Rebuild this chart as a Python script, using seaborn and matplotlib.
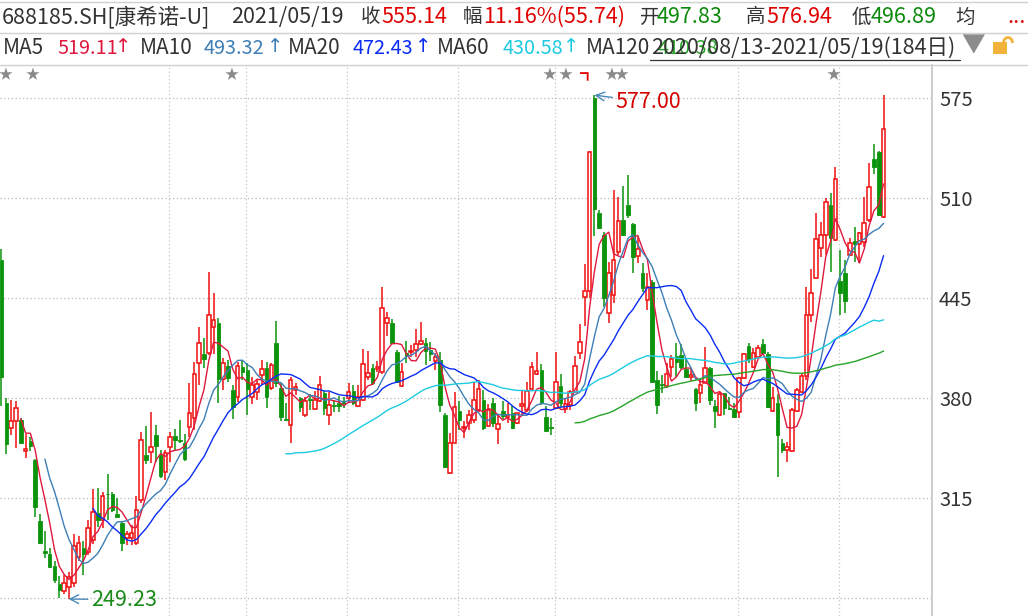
import numpy as np
import pandas as pd
import seaborn as sns
from matplotlib import pyplot as plt
from matplotlib.lines import Line2D
from matplotlib.patches import Rectangle, Arc
import matplotlib.transforms as mtrans

# 688185.SH daily bars, 2020/08/13 - 2021/05/19 (184 days)
opens = [470, 377, 360.5, 365, 366, 345.5, 352, 340, 300, 280.7,
         279, 271, 259, 255, 257.5, 260, 276.6, 283, 280, 288,
         305.6, 301, 318, 318, 304.6, 299, 289.4, 289.4, 286, 314,
         343, 345, 356, 343, 332.3, 348.5, 355.5, 353, 350.7, 361.6,
         367, 402.7, 408.8, 409.7, 426.6, 428.7, 392.3, 401, 385.4, 380.6,
         400.6, 398.4, 380.6, 384.3, 395, 400, 386.5, 415.7, 386.5, 366.5,
         362.6, 385.4, 380, 369, 379.5, 372.8, 378.5, 383.7, 369, 375.6,
         377, 378.2, 380, 385, 375, 378.9, 393.6, 399.5, 398.8, 397.3,
         429.2, 428.7, 410.3, 388, 409.2, 410, 411.4, 415.3, 415.7, 411.4,
         404.5, 405, 369, 331.2, 351.2, 372, 360.5, 364.2, 366, 372.4,
         379, 362, 376.7, 359.8, 372, 367.6, 370.7, 363.7, 375.2, 372.4,
         385.8, 395.8, 398.4, 367.6, 361.6, 374, 388, 372.8, 375.6, 384.3,
         409.7, 445.6, 450, 575, 500.7, 486, 435.7, 447, 475.3, 495.9,
         505.6, 493.3, 472.5, 461.7, 443.9, 455.8, 392, 389.5, 388.2, 400.6,
         407.5, 408.1, 398.8, 394.1, 385.8, 383.6, 390.2, 399.5, 375, 369.1,
         383.2, 373.5, 372.8, 371.3, 393, 414, 400.6, 406.6, 415.3, 408.8,
         372, 377.1, 350.7, 346.4, 346, 372, 384.3, 394.5, 434.1, 458,
         477.5, 486, 505.6, 483, 456.4, 461.7, 473.1, 482.5, 480.3, 481.8,
         495.9, 535.3, 540.3, 497.83]
highs = [477, 380, 379, 378.5, 367, 357, 355, 340.5, 305, 294,
         282.5, 274.5, 264.5, 265, 267, 292, 290.5, 287, 301, 321,
         322, 319, 331, 319.3, 315, 300, 294, 297.6, 316.5, 358,
         362, 371, 362.6, 346.4, 346.4, 358.3, 360, 366, 357, 389.7,
         403.8, 426, 419, 462.3, 448.7, 432, 406, 405, 388.6, 403.8,
         404, 402.7, 394, 392.3, 405, 403.8, 402.7, 430.2, 389.7, 376.7,
         393.6, 389.7, 381, 381, 383, 385, 394.5, 385, 384.3, 379,
         381.5, 381, 389.7, 388.6, 388.6, 412, 411, 402, 404.5, 452,
         436.3, 431.3, 411.4, 402.7, 417.5, 414.6, 424.8, 429.8, 419, 416.8,
         409.2, 410.3, 370.7, 357.7, 384.3, 378.5, 365.5, 372.4, 390.8, 392,
         385.4, 376.3, 380, 369, 378.5, 377.2, 375, 370.7, 385.4, 390.8,
         403.8, 410.3, 402.3, 375, 367, 410.3, 395.8, 380, 385.4, 407.5,
         428.3, 467.3, 541, 577, 502.4, 488.3, 468.8, 515.4, 511, 518,
         525, 494, 485, 468, 461.2, 457, 398, 395, 402.7, 408.1,
         415.7, 415.3, 405.3, 399.5, 386.5, 392, 413.6, 400.6, 378.9, 384.3,
         383.6, 381, 377, 394, 409.2, 415.7, 412.5, 414.6, 418.3, 410.3,
         387.6, 382.8, 353.3, 351.8, 373.5, 386.5, 396.2, 452.6, 463.8, 500.2,
         494.8, 510, 513.2, 530, 476.4, 470, 484, 491.6, 488.3, 510.6,
         532.7, 545.3, 541, 576.94]
lows = [375, 344, 356, 347.5, 350, 341, 346, 303, 285, 276,
        269.4, 259.7, 250, 253, 249.23, 257.5, 274, 265, 278, 285,
        296.5, 296, 301, 306, 302, 281, 284.6, 284.6, 284.6, 311.7,
        337, 337.7, 338.8, 328, 327, 338.8, 346.4, 350.7, 339.4, 355,
        359.4, 388.6, 399.5, 408, 409, 377.2, 385.4, 390.8, 366.3, 377.8,
        392, 369, 376.3, 378.9, 388.6, 374, 385.4, 387.6, 365.5, 365.5,
        351.2, 382, 371.3, 368, 372.4, 372.4, 377.8, 369, 362.6, 371.3,
        371.3, 374, 377.8, 375.6, 374.6, 378.5, 392, 388.6, 397, 396,
        420.5, 415.7, 389.7, 387.6, 403.2, 407, 406.6, 414.6, 401.6, 404.5,
        398.4, 371.3, 335, 330.8, 350.7, 359.4, 354, 359.4, 364, 371.3,
        359.4, 361.5, 361.6, 350.3, 366.3, 363.7, 359.8, 363.3, 369, 371.3,
        385.4, 395, 375.6, 358.5, 356, 372.8, 374.6, 370.7, 372.4, 384,
        405.3, 427, 445, 485.5, 489.8, 439.6, 429, 441.7, 473, 485.5,
        497, 461.7, 468, 449.3, 437.4, 390, 370, 383.6, 386.5, 394,
        394, 398.8, 393, 391.5, 372, 377, 389.8, 375.6, 360.5, 368.5,
        369.1, 372.4, 367, 367, 392.3, 402.7, 399.5, 406, 408.1, 373.5,
        371.3, 329, 344.6, 338.8, 345.3, 371.3, 383.2, 391.9, 429.8, 457.4,
        472, 473, 462.3, 482.5, 434.1, 435.6, 472.5, 468.8, 467.7, 478.6,
        494.8, 525.8, 499.1, 496.89]
closes = [394, 350, 365, 374, 351, 347, 349, 309.5, 286, 279.6,
          270.5, 262, 255.5, 259.7, 263.6, 284, 285.7, 279, 296, 306,
          301, 316.5, 317.6, 307.4, 303, 286, 291.5, 292.2, 307.4, 353,
          340, 348.5, 349, 329.5, 344.6, 354.6, 353, 352, 340.3, 370.2,
          395.8, 415.7, 405.8, 434.1, 431, 392.3, 402.7, 393, 374.6, 401,
          397.3, 385.8, 388.6, 389.3, 398.8, 380.6, 401.7, 390.2, 368, 365.9,
          391.9, 387.1, 374.6, 378.5, 379, 378.9, 388.6, 373.5, 375.6, 375.2,
          375, 376.7, 384.3, 377, 380.6, 402.1, 396.2, 389.7, 400.6, 438.5,
          432, 416.2, 390.8, 397.3, 407.5, 410.7, 415.3, 417.5, 411, 408.8,
          407.1, 375.6, 335.5, 351.2, 374.6, 366, 361.6, 369.1, 379, 385.8,
          360.5, 372.4, 363.7, 363.3, 368.5, 369.1, 360.5, 370.2, 376, 385,
          400.1, 397.7, 376.7, 358.9, 360.7, 390.8, 376.7, 376.3, 384.3, 401,
          416.8, 450, 540.3, 502.8, 490.5, 445, 461.2, 470, 495.5, 486.1,
          499, 472, 476.8, 451.5, 452.1, 390.8, 375.6, 388.4, 395.8, 405.3,
          403.8, 400.1, 393.6, 395.1, 376.7, 388.6, 399.5, 378.9, 372, 382.8,
          373.5, 372.8, 368.1, 393, 408.8, 405.3, 409.2, 412.5, 409.2, 374.1,
          380, 356.1, 346.4, 348.5, 372.4, 385.4, 394.5, 434.1, 448.2, 483.3,
          486.1, 507.8, 484, 522.3, 448.2, 443.4, 480.7, 480.3, 487.2, 494.2,
          517.6, 530, 499.4, 555.14]

ma_windows = [5, 10, 20, 60, 120]
ma_colors = ['#e0183f', '#3d7fb6', '#0a2cf5', '#1ccbe0', '#27a327']
ma_values = ['519.11', '493.32', '472.43', '430.58', '410.38']
y_ticks = [315, 380, 445, 510, 575]
month_lines = [35, 51, 72, 95, 115, 153, 174]
star_pos = [0.9, 6.5, 47.8, 113.6, 116.9, 126.5, 128.7, 172.5]

RED = '#f01010'
GREEN = '#0c930c'

df = pd.DataFrame({'open': opens, 'high': highs, 'low': lows, 'close': closes})
df['idx'] = np.arange(len(df))
for w in ma_windows:
    df[f'ma{w}'] = df['close'].rolling(w).mean()

sns.set_style('white')
plt.rcParams['font.family'] = ['Noto Sans CJK SC', 'DejaVu Sans']

W, H = 1028, 616
fig = plt.figure(figsize=(W / 100, H / 100), dpi=100)
ax = fig.add_axes([0, 0, 932 / W, (H - 65) / H])

def fy(y):
    return 1 - y / H

# candles
up = df['close'] >= df['open']
body_lo = np.minimum(df['open'], df['close'])
body_hi = np.maximum(df['open'], df['close'])
body_h = np.maximum(body_hi - body_lo, 0.5)
ax.bar(df['idx'][up], body_h[up], bottom=body_lo[up], width=0.74,
       facecolor='white', edgecolor=RED, linewidth=1.1, zorder=3)
ax.bar(df['idx'][~up], body_h[~up], bottom=body_lo[~up], width=0.74,
       facecolor=GREEN, edgecolor=GREEN, linewidth=0.6, zorder=3)
wick_col = np.where(up, RED, GREEN)
ax.vlines(df['idx'], body_hi, df['high'], colors=wick_col, linewidth=1.1, zorder=2)
ax.vlines(df['idx'], df['low'], body_lo, colors=wick_col, linewidth=1.1, zorder=2)

# moving averages
for w, c in zip(ma_windows, ma_colors):
    sns.lineplot(data=df, x='idx', y=f'ma{w}', ax=ax, color=c, linewidth=1.0, zorder=4)

for v in [250] + y_ticks:
    ax.axhline(v, color='#b8b8b8', linestyle=(0, (1, 2)), linewidth=0.9, zorder=1)
for m in month_lines:
    ax.axvline(m - 0.25, color='#c4c4c4', linestyle=(0, (1, 2)), linewidth=0.9, zorder=1)

ax.set_xlim(-0.31, 193.05)
ax.set_ylim(238.5, 596.6)
ax.set_xlabel('')
ax.set_ylabel('')
ax.set_xticks([])
ax.yaxis.tick_right()
ax.set_yticks(y_ticks)
ax.set_yticklabels([str(t) for t in y_ticks], fontsize=14.5, color='#333333')
ax.tick_params(axis='y', length=0, pad=5)
for s in ['left', 'top', 'bottom']:
    ax.spines[s].set_visible(False)
ax.spines['right'].set_color('#c8c8c8')
ax.spines['right'].set_linewidth(1.3)

# high / low labels
ax.annotate('577.00', xy=(123, 577), xytext=(127.4, 572.6), color='#d40000', fontsize=15.5,
            va='center', ha='left',
            arrowprops=dict(arrowstyle='->', color='#4a8ab8', lw=1.0, shrinkA=0, shrinkB=0))
ax.annotate('249.23', xy=(13.9, 249.5), xytext=(18.6, 249.2), color='#1a8a1a', fontsize=15.5,
            va='center', ha='left',
            arrowprops=dict(arrowstyle='->', color='#4a8ab8', lw=1.0, shrinkA=0, shrinkB=0))

# stars row
trans = mtrans.blended_transform_factory(ax.transData, fig.transFigure)
for s in star_pos:
    fig.text(s, fy(75), '★', transform=trans, fontsize=10, color='#8a8a8a', ha='center', va='center')
fig.text(121.7, fy(74), '┓', transform=trans, fontsize=11, color='#e00000',
         ha='center', va='center', fontweight='bold')

# header lines
for yy in [2, 33, 65]:
    fig.add_artist(Line2D([0, 1], [fy(yy), fy(yy)], color='#d0d0d0', linewidth=1.0))

fs = 15.5
row1 = [(2, '688185.SH[康希诺-U]', '#333333'), (231, '2021/05/19', '#333333'),
        (361, '收', '#333333'), (381, '555.14', '#e00000'), (463, '幅', '#333333'),
        (483, '11.16%(55.74)', '#e00000'), (640, '开', '#333333'), (657, '497.83', '#0c8a0c'),
        (746, '高', '#333333'), (766, '576.94', '#e00000'), (852, '低', '#333333'),
        (871, '496.89', '#0c8a0c'), (955, '均', '#333333'), (1007, '...', '#e00000')]
for x, t, c in row1:
    size = 14 if len(t) == 1 else fs
    fig.text(x / W, fy(17), t, fontsize=size, color=c, ha='left', va='center')

row2 = [(3, 'MA5', 57, 123.5), (140, 'MA10', 204, 275), (288, 'MA20', 353, 423.5),
        (437, 'MA60', 503, 571.5), (586, 'MA120', 658, None)]
for (x, lab, vx, ax_x), c, v in zip(row2, ma_colors, ma_values):
    fig.text(x / W, fy(48), lab, fontsize=15, color='#333333', ha='left', va='center')
    fig.text(vx / W, fy(48), v, fontsize=14.3, color=c, ha='left', va='center')
    if ax_x is not None:
        fig.text(ax_x / W, fy(47), '↑', fontsize=14, color=c, ha='center', va='center',
                 family=['DejaVu Sans'])
fig.text(651 / W, fy(48), '2020/08/13-2021/05/19(184日)', fontsize=fs, color='#333333',
         ha='left', va='center')
fig.add_artist(Line2D([650 / W, 960 / W], [fy(60), fy(60)], color='#333333', linewidth=0.9))
fig.text(973 / W, fy(46), '▼', fontsize=17, color='#8c8c8c', ha='center', va='center')
fig.add_artist(Rectangle((993 / W, fy(54)), 14 / W, 12 / H, facecolor='#f2b33d',
                         edgecolor='none', transform=fig.transFigure))
fig.add_artist(Arc((1008 / W, fy(43)), 9 / W, 11 / H, theta1=0, theta2=180,
                   color='#f2b33d', linewidth=2, transform=fig.transFigure))

fig.savefig('out.png', dpi=100)
